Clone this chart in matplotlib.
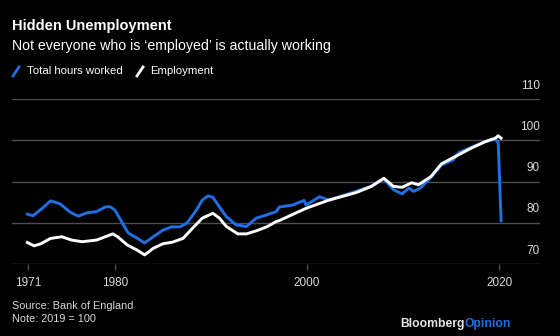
import matplotlib.pyplot as plt
from matplotlib.lines import Line2D
from matplotlib.transforms import blended_transform_factory

# UK total hours worked vs employment, index 2019 = 100
hours_year = [1970.9, 1971.5, 1972.6, 1973.3, 1974.3, 1975.4, 1976.2, 1977.1, 1978.1,
              1979.0, 1979.5, 1980.0, 1980.9, 1981.4, 1982.3, 1983.1, 1984.0, 1985.0,
              1985.9, 1986.8, 1987.5, 1988.5, 1989.1, 1989.7, 1990.2, 1990.9, 1991.6,
              1992.6, 1993.7, 1994.7, 1995.8, 1996.8, 1997.1, 1998.5, 1999.7, 1999.9,
              2001.3, 2002.3, 2003.6, 2005.1, 2006.7, 2008.0, 2009.0, 2009.9, 2010.6,
              2011.1, 2011.8, 2012.9, 2014.0, 2015.2, 2015.8, 2017.1, 2018.6, 2019.6,
              2019.9, 2020.2]
hours_val = [82.1, 81.7, 83.8, 85.3, 84.6, 82.5, 81.6, 82.4, 82.7,
             83.8, 83.9, 83.1, 79.5, 77.5, 76.3, 75.1, 76.6, 78.2,
             79.0, 79.0, 79.9, 83.1, 85.5, 86.5, 86.2, 83.8, 81.5,
             79.5, 79.1, 81.1, 81.9, 82.7, 83.8, 84.3, 85.4, 84.3,
             86.3, 85.5, 86.5, 87.6, 88.9, 90.6, 88.0, 87.0, 88.4,
             87.6, 88.4, 91.0, 94.0, 95.2, 97.0, 98.3, 99.7, 100.3,
             99.5, 80.5]

emp_year = [1970.9, 1971.6, 1972.3, 1973.3, 1974.5, 1975.5, 1976.6, 1978.1, 1979.0,
            1979.8, 1980.3, 1981.3, 1982.3, 1983.1, 1984.0, 1985.0, 1986.0, 1987.1,
            1988.1, 1989.1, 1990.2, 1990.9, 1991.6, 1992.8, 1993.7, 1994.8, 1995.8,
            1996.8, 1997.1, 1999.9, 2002.3, 2005.1, 2006.7, 2008.0, 2009.0, 2009.9,
            2010.9, 2011.6, 2012.9, 2014.0, 2015.8, 2017.1, 2018.6, 2019.6, 2019.9,
            2020.2]
emp_val = [75.2, 74.4, 74.9, 76.2, 76.6, 75.8, 75.4, 75.8, 76.6,
           77.3, 76.6, 74.6, 73.4, 72.2, 73.8, 74.9, 75.3, 76.2,
           78.7, 81.1, 82.3, 81.1, 79.1, 77.3, 77.3, 78.1, 79.0,
           80.3, 80.5, 83.5, 85.5, 87.3, 88.8, 90.8, 88.8, 88.6,
           89.7, 89.2, 91.2, 94.3, 96.5, 98.1, 99.7, 100.5, 101.1,
           100.5]

x_ticks = [1971, 1980, 2000, 2020]
y_ticks = [70, 80, 90, 100, 110]

BG = '#000000'
BLUE = '#1f6fe6'
GRID = '#4d4d4d'
TXT = '#d9d9d9'
FONT = 'Liberation Sans'

plt.rcParams['font.family'] = FONT

fig = plt.figure(figsize=(5.6, 3.36), dpi=100, facecolor=BG)
ax = fig.add_axes([12/560, 72/336, 528/560, 165/336], facecolor=BG)

ax.plot(hours_year, hours_val, color=BLUE, lw=2.1, solid_joinstyle='round', zorder=3)
ax.plot(emp_year, emp_val, color='white', lw=2.1, solid_joinstyle='round', zorder=4)

ax.set_xlim(1969.3, 2024.25)
ax.set_ylim(70, 110)
for s in ax.spines.values():
    s.set_visible(False)

for v in y_ticks:
    ax.axhline(v, color=GRID, lw=1.0, zorder=1)
ax.set_yticks([])

ax.set_xticks(x_ticks)
ax.set_xticklabels([str(t) for t in x_ticks], color=TXT, fontsize=8.5)
ax.tick_params(axis='x', length=4, width=1, color=GRID, pad=5)

# y labels sit above their gridlines on the right
tr = blended_transform_factory(ax.transAxes, ax.transData)
for v in y_ticks:
    ax.text(1.0, v + 1.8, str(v), transform=tr, ha='right', va='bottom',
            color=TXT, fontsize=8.5)

fig.text(12/560, 1 - 26/336, 'Hidden Unemployment', color='white',
         fontsize=10.5, fontweight='bold', va='center')
fig.text(12/560, 1 - 46/336, 'Not everyone who is \u2018employed\u2019 is actually working',
         color='white', fontsize=10.2, va='center')

# legend
fig.add_artist(Line2D([13/560, 19/560], [1 - 76/336, 1 - 67/336], color=BLUE, lw=2))
fig.text(27/560, 1 - 71.5/336, 'Total hours worked', color='white', fontsize=8.2, va='center')
fig.add_artist(Line2D([137/560, 143/560], [1 - 76/336, 1 - 67/336], color='white', lw=2))
fig.text(150/560, 1 - 71.5/336, 'Employment', color='white', fontsize=8.2, va='center')

fig.text(12/560, 1 - 306/336, 'Source: Bank of England', color=TXT, fontsize=7.8, va='center')
fig.text(12/560, 1 - 319/336, 'Note: 2019 = 100', color=TXT, fontsize=7.8, va='center')

t1 = fig.text(400/560, 1 - 324/336, 'Bloomberg', color='#e6e6e6', fontsize=8.7,
              fontweight='bold', va='center')
fig.canvas.draw()
bb = t1.get_window_extent()
fig.text(bb.x1 / fig.bbox.width, 1 - 324/336, 'Opinion', color=BLUE, fontsize=8.7,
         fontweight='bold', va='center')

fig.savefig('out.png', dpi=100, facecolor=BG)
